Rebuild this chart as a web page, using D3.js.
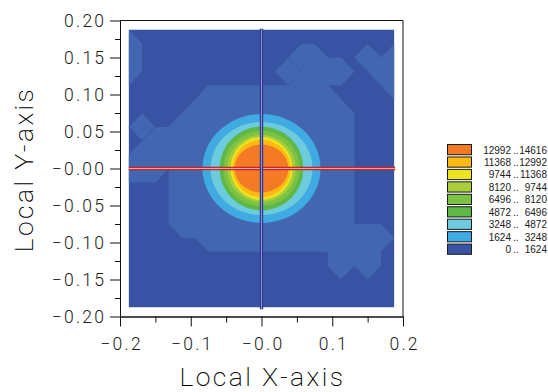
<!DOCTYPE html>
<html>
<head>
<meta charset="utf-8">
<script src="https://cdn.jsdelivr.net/npm/d3@7"></script>
<style>
    body { margin: 0; background: #fff; }
    svg { display: block; }
    .tick text { font-family: Roboto, "DejaVu Sans", sans-serif; font-weight: 300; }
</style>
</head>
<body>
<svg id="chart" width="548" height="392"></svg>
<script>
// legend bands
const bandLow = [0, 1624, 3248, 4872, 6496, 8120, 9744, 11368, 12992];
const bandHigh = [1624, 3248, 4872, 6496, 8120, 9744, 11368, 12992, 14616];
const bandColors = ["#3953a4", "#3fabe2", "#6ccbdc", "#5db848", "#7dc242", "#a9ce3b", "#ede41f", "#fdba13", "#f47a26"];

// contour boundary of each level around the peak (half widths, data units)
const contourLevels = [1624, 3248, 4872, 6496, 8120, 9744, 11368, 12992];
const contourRx = [0.0834, 0.0721, 0.0593, 0.0541, 0.0485, 0.0438, 0.0410, 0.0379];
const contourRy = [0.0736, 0.0630, 0.0567, 0.0509, 0.0455, 0.0426, 0.0388, 0.0324];

// measurement grid nodes (same on both axes)
const gridNodes = [-0.1875, -0.16875, -0.15, -0.13125, -0.1125, -0.09375, -0.075, -0.05625, -0.0375, -0.01875, 0,
    0.01875, 0.0375, 0.05625, 0.075, 0.09375, 0.1125, 0.13125, 0.15, 0.16875, 0.1875];

// low plateau inside the 0..1624 band, outlines as [x node, y node]
const plateauColor = "#4267b0";
const plateauMain = [[6, 16], [15, 16], [17, 14], [17, 6], [19, 6], [20, 5], [19, 4], [19, 3], [18, 2], [17, 3], [16, 2],
    [15, 3], [15, 4], [6, 4], [5, 5], [4, 5], [3, 6], [3, 10], [2, 9], [0, 9], [0, 11], [1, 12], [2, 13], [3, 13]];
const plateauLeft = [[0, 20], [1, 19], [1, 17], [0, 16]];
const plateauTop = [[11, 17], [13, 19], [14, 19], [15, 18], [16, 18], [17, 17], [16, 16], [12, 16]];
const plateauCorner = [[17, 18], [18, 19], [19, 18], [20, 19], [20, 15]];
const plateauDiamonds = [[[1, 14], [2, 13], [1, 12], [0, 13]], [[11, 17], [12, 18], [13, 17], [12, 16]]];

// axes
const xTicks = [-0.2, -0.1, 0, 0.1, 0.2];
const xTickLabels = ["\u22120.2", "\u22120.1", "\u22120.0", "0.1", "0.2"];
const xMinor = [-0.15, -0.05, 0.05, 0.15];
const yTicks = [0.2, 0.15, 0.1, 0.05, 0, -0.05, -0.1, -0.15, -0.2];
const yTickLabels = ["0.20", "0.15", "0.10", "0.05", "\u22120.00", "\u22120.05", "\u22120.10", "\u22120.15", "\u22120.20"];
const yMinor = [0.175, 0.125, 0.075, 0.025, -0.025, -0.075, -0.125, -0.175];

const svg = d3.select("#chart");

const x = d3.scaleLinear().domain([-0.2, 0.2]).range([120, 403]);
const y = d3.scaleLinear().domain([-0.2, 0.2]).range([316.5, 20.5]);

const nodeX = i => x(gridNodes[i]);
const nodeY = j => y(gridNodes[j]);
const outline = d3.line().x(d => nodeX(d[0])).y(d => nodeY(d[1])).curve(d3.curveLinearClosed);

// PLOT AREA
const plot = svg.append("g");

plot.append("rect")
    .attr("x", nodeX(0))
    .attr("y", nodeY(20))
    .attr("width", nodeX(20) - nodeX(0))
    .attr("height", nodeY(0) - nodeY(20))
    .attr("fill", bandColors[0]);

plot.selectAll(".plateau")
    .data([plateauMain, plateauLeft, plateauTop, plateauCorner])
    .enter().append("path")
    .attr("class", "plateau")
    .attr("d", outline)
    .attr("fill", plateauColor);

plot.selectAll(".diamond")
    .data(plateauDiamonds)
    .enter().append("path")
    .attr("class", "diamond")
    .attr("d", outline)
    .attr("fill", plateauColor)
    .attr("stroke", "#3a56a2")
    .attr("stroke-width", 0.8);

plot.selectAll(".ring")
    .data(contourLevels)
    .enter().append("ellipse")
    .attr("class", "ring")
    .attr("cx", x(0))
    .attr("cy", y(0))
    .attr("rx", (d, i) => x(contourRx[i]) - x(0))
    .attr("ry", (d, i) => y(0) - y(contourRy[i]))
    .attr("fill", d => bandColors[bandLow.indexOf(d)]);

// cross hair through the centre
const hLine = plot.append("g");
hLine.append("line")
    .attr("x1", nodeX(0)).attr("x2", nodeX(20) + 1)
    .attr("y1", y(0)).attr("y2", y(0))
    .attr("stroke", "#c4262c").attr("stroke-width", 3.4);
hLine.append("line")
    .attr("x1", nodeX(0)).attr("x2", nodeX(20) + 1)
    .attr("y1", y(0)).attr("y2", y(0))
    .attr("stroke", "#f2a6a4").attr("stroke-width", 1);

const vLine = plot.append("g");
vLine.append("line")
    .attr("x1", x(0)).attr("x2", x(0))
    .attr("y1", nodeY(20) - 1).attr("y2", nodeY(0) + 2)
    .attr("stroke", "#323a92").attr("stroke-width", 3.4);
vLine.append("line")
    .attr("x1", x(0)).attr("x2", x(0))
    .attr("y1", nodeY(20) - 1).attr("y2", nodeY(0) + 2)
    .attr("stroke", "#8a90d2").attr("stroke-width", 1);

// FRAME + AXES
svg.append("line")
    .attr("x1", x(-0.2)).attr("x2", x(0.2))
    .attr("y1", y(0.2)).attr("y2", y(0.2))
    .attr("stroke", "#111");
svg.append("line")
    .attr("x1", x(0.2)).attr("x2", x(0.2))
    .attr("y1", y(0.2)).attr("y2", y(-0.2))
    .attr("stroke", "#111");

const gx = svg.append("g")
    .attr("transform", "translate(0," + y(-0.2) + ")")
    .call(d3.axisBottom(x).tickValues(xTicks).tickSize(10).tickSizeOuter(0).tickPadding(11)
        .tickFormat((d, i) => xTickLabels[i]));
svg.append("g")
    .attr("transform", "translate(0," + y(-0.2) + ")")
    .call(d3.axisBottom(x).tickValues(xMinor).tickSize(6).tickSizeOuter(0).tickFormat(""));

const gy = svg.append("g")
    .attr("transform", "translate(" + x(-0.2) + ",0)")
    .call(d3.axisLeft(y).tickValues(yTicks).tickSize(10).tickSizeOuter(0).tickPadding(6)
        .tickFormat((d, i) => yTickLabels[i]));
svg.append("g")
    .attr("transform", "translate(" + x(-0.2) + ",0)")
    .call(d3.axisLeft(y).tickValues(yMinor).tickSize(5).tickSizeOuter(0).tickFormat(""));

svg.selectAll(".domain, .tick line").attr("stroke", "#111");
svg.selectAll(".tick text")
    .attr("fill", "#1a1a1a")
    .style("font-size", "17.5px")
    .style("letter-spacing", "2.2px");
gy.selectAll(".tick text").attr("dx", "2.2px");
gx.selectAll(".tick text").attr("dx", "1.1px");

// axis titles
const titleStyle = sel => sel
    .attr("text-anchor", "middle")
    .style("font-family", "Roboto, 'DejaVu Sans', sans-serif")
    .style("font-weight", 200)
    .style("font-size", "26.5px")
    .style("letter-spacing", "2.4px")
    .attr("fill", "#000");

svg.append("text")
    .attr("x", x(0) + 1)
    .attr("y", 385.5)
    .call(titleStyle)
    .text("Local X-axis");

svg.append("text")
    .attr("transform", "translate(33," + (y(0) + 1) + ") rotate(-90)")
    .call(titleStyle)
    .text("Local Y-axis");

// LEGEND (highest band on top)
const order = d3.range(bandLow.length).reverse();
const ly = d3.scaleBand().domain(order).range([144, 253.8]).paddingInner(0.18);

const legend = svg.append("g");
const rows = legend.selectAll(".lg")
    .data(order)
    .enter().append("g")
    .attr("class", "lg")
    .attr("transform", d => "translate(0," + ly(d) + ")");

rows.append("rect")
    .attr("x", 447.5)
    .attr("y", 0.5)
    .attr("width", 24)
    .attr("height", ly.bandwidth())
    .attr("fill", d => bandColors[d])
    .attr("stroke", "#1a1a1a");

const legendText = (sel, xPos, anchor, fn) => sel.append("text")
    .attr("x", xPos)
    .attr("y", ly.bandwidth() / 2 + 1)
    .attr("dy", "0.35em")
    .attr("text-anchor", anchor)
    .style("font-family", "'Liberation Sans', Arial, sans-serif")
    .style("font-size", "10px")
    .attr("fill", "#1a1a1a")
    .text(fn);

legendText(rows, 511, "end", d => bandLow[d]);
legendText(rows, 513, "start", () => "..");
legendText(rows, 547, "end", d => bandHigh[d]);
</script>
</body>
</html>
